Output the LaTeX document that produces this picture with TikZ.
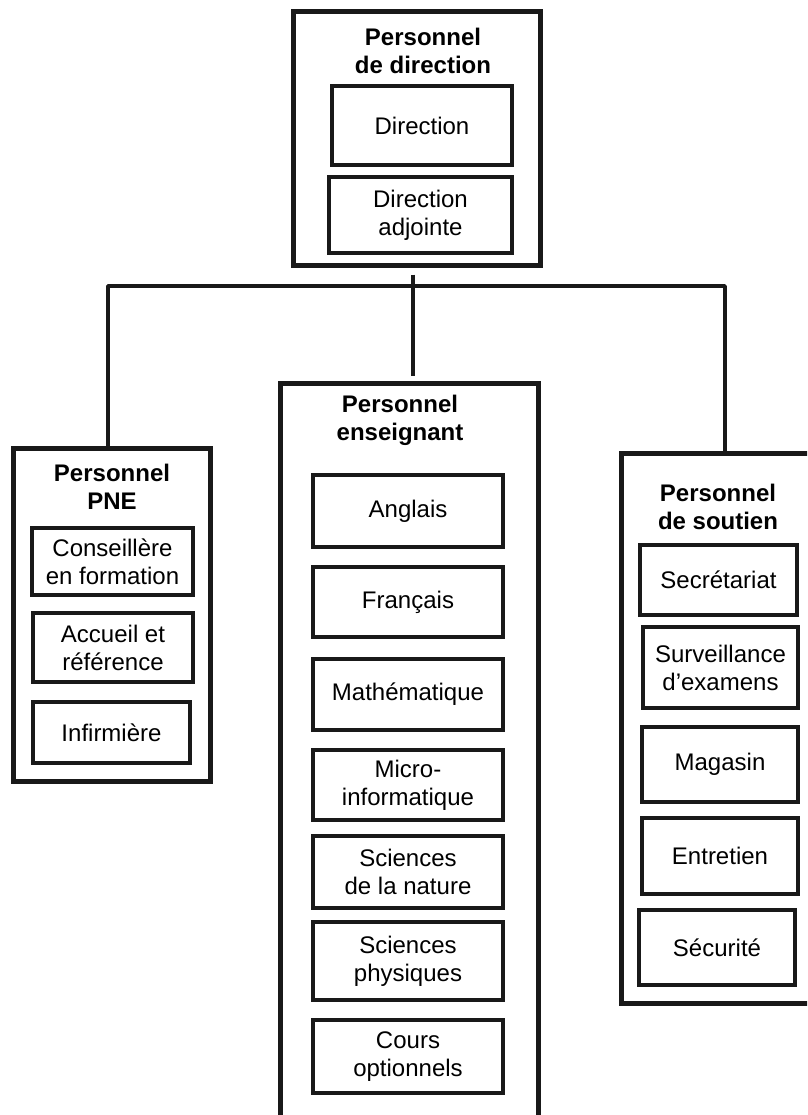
\documentclass[tikz,border=0pt]{standalone}
\usepackage{fontspec}
\setmainfont{Liberation Sans}
\begin{document}
\begin{tikzpicture}[x=1pt,y=-1pt,
  outerbox/.style={draw=black!90, line width=5pt, inner sep=0pt},
  inbox/.style={draw=black!90, line width=3.8pt, inner sep=0pt, align=center,
    font=\fontsize{24}{28}\selectfont},
  title/.style={inner sep=0pt, align=center, font=\fontsize{24}{28}\selectfont\bfseries},
  link/.style={draw=black!90, line width=3.8pt, line join=round}]
\useasboundingbox (0,0) rectangle (807,1115);
\clip (0,0) rectangle (807,1115);

% Direction staff
\node[outerbox, minimum width=247, minimum height=253] (top) at (416.5,138.5) {};
\node[title] (toptitle) at (423,51) {Personnel\\de direction};
\node[inbox, minimum width=180, minimum height=79] (dir) at (422,125.5) {Direction};
\node[inbox, minimum width=183, minimum height=76] (adj) at (420.5,215) {Direction\\adjointe};

% PNE staff
\node[outerbox, minimum width=197, minimum height=333] (pne) at (111.5,614.5) {};
\node[title] (pnetitle) at (112,487) {Personnel\\PNE};
\node[inbox, minimum width=161, minimum height=67] (cons) at (112.5,561.5) {Conseillère\\en formation};
\node[inbox, minimum width=160, minimum height=69] (acc) at (113,647.5) {Accueil et\\référence};
\node[inbox, minimum width=157, minimum height=61] (inf) at (111.5,732.5) {Infirmière};

% Teaching staff
\node[outerbox, minimum width=258, minimum height=760] (ens) at (409,763) {};
\node[title] (enstitle) at (400,420) {Personnel\\enseignant};
\node[inbox, minimum width=190, minimum height=72] (ang) at (408,511) {Anglais};
\node[inbox, minimum width=190, minimum height=70] (fra) at (408,602) {Français};
\node[inbox, minimum width=190, minimum height=71] (mat) at (408,694.5) {Mathématique};
\node[inbox, minimum width=190, minimum height=70] (mic) at (408,785) {Micro-\\informatique};
\node[inbox, minimum width=190, minimum height=72] (nat) at (408,872) {Sciences\\de la nature};
\node[inbox, minimum width=190, minimum height=78] (phy) at (408,961) {Sciences\\physiques};
\node[inbox, minimum width=190, minimum height=73] (opt) at (408,1056.5) {Cours\\optionnels};

% Support staff
\node[outerbox, minimum width=199, minimum height=550] (sou) at (720.5,728) {};
\node[title] (soutitle) at (718,507) {Personnel\\de soutien};
\node[inbox, minimum width=157, minimum height=70] (sec) at (718.5,580) {Secrétariat};
\node[inbox, minimum width=155, minimum height=81] (sur) at (720.5,667.5) {Surveillance\\d’examens};
\node[inbox, minimum width=156, minimum height=75] (mag) at (720,764.5) {Magasin};
\node[inbox, minimum width=156, minimum height=76] (ent) at (720,856) {Entretien};
\node[inbox, minimum width=156, minimum height=75] (secu) at (717,947.5) {Sécurité};

% Connectors
\coordinate (hub) at (413,286);
\coordinate (lj) at (108,286);
\coordinate (rj) at (725,286);
\draw[link, shorten <=7pt, shorten >=5pt] (hub |- top.south) -- (hub |- ens.north);
\draw[link] (lj |- pne.north) -- (lj) -- (rj) -- (rj |- sou.north);
\end{tikzpicture}
\end{document}
